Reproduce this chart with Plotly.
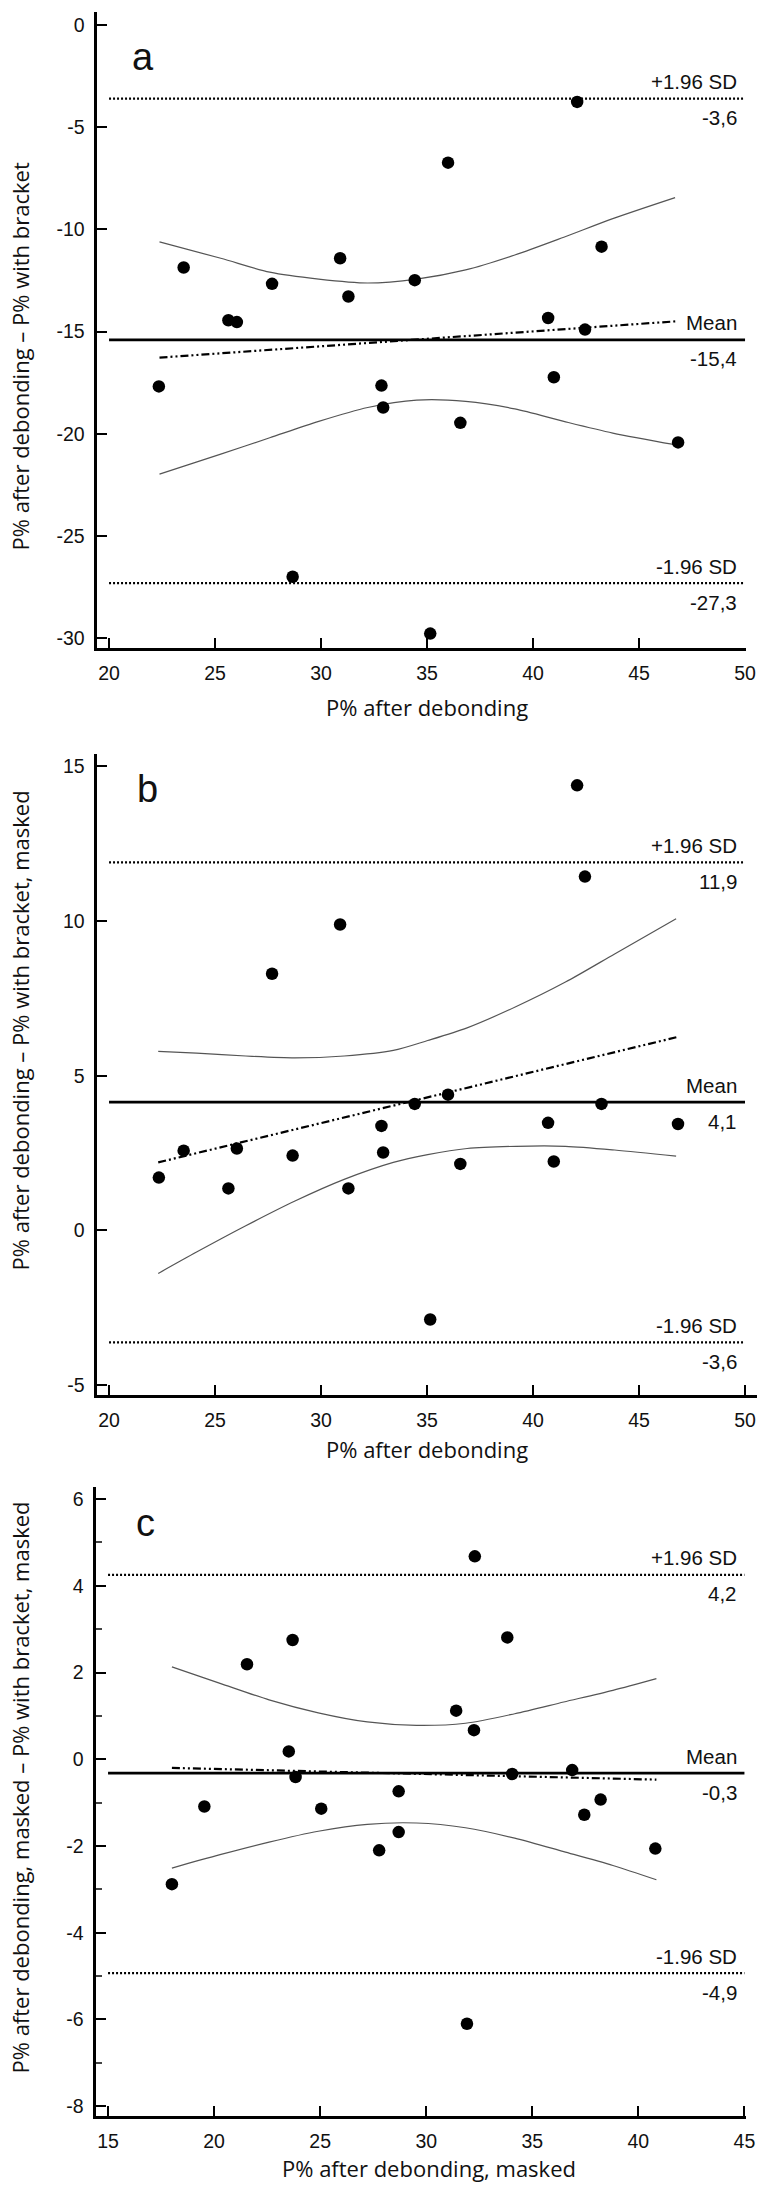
import plotly.graph_objects as go

# ---------------- data ----------------
# Panels a and b share the x variable (P% after debonding)
p_after = [22.35, 23.52, 25.63, 26.03, 27.69, 28.66, 30.90, 31.29, 32.85, 32.93,
           34.42, 35.15, 35.99, 36.57, 40.71, 40.98, 42.08, 42.45, 43.23, 46.84]
diff_a = [-17.68, -11.86, -14.44, -14.53, -12.66, -26.99, -11.41, -13.28, -17.64, -18.71,
          -12.48, -29.77, -6.73, -19.46, -14.33, -17.23, -3.76, -14.90, -10.84, -20.42]
diff_b = [1.71, 2.58, 1.36, 2.65, 8.30, 2.42, 9.89, 1.36, 3.38, 2.52,
          4.09, -2.88, 4.39, 2.15, 3.48, 2.23, 14.39, 11.44, 4.09, 3.44]

# Panel c
p_after_masked = [18.01, 19.54, 21.55, 23.52, 23.70, 23.84, 25.05, 27.78, 28.70, 28.70,
                  31.41, 31.92, 32.25, 32.29, 33.82, 34.05, 36.88, 37.45, 38.22, 40.80]
diff_c = [-2.88, -1.09, 2.19, 0.18, 2.75, -0.41, -1.14, -2.10, -0.74, -1.68,
          1.12, -6.10, 0.67, 4.68, 2.81, -0.34, -0.25, -1.28, -0.93, -2.06]

# Limits of agreement (upper, mean, lower) and their labels
loa_a = [-3.6, -15.4, -27.3]
loa_b = [11.9, 4.15, -3.62]
loa_c = [4.25, -0.32, -4.93]
loa_a_txt = ["-3,6", "-15,4", "-27,3"]
loa_b_txt = ["11,9", "4,1", "-3,6"]
loa_c_txt = ["4,2", "-0,3", "-4,9"]
loa_names = ["+1.96 SD", "Mean", "-1.96 SD"]

# Regression lines (end points)
reg_a_x = [22.38, 46.80]
reg_a_y = [-16.27, -14.49]
reg_b_x = [22.32, 46.85]
reg_b_y = [2.20, 6.26]
reg_c_x = [18.01, 40.85]
reg_c_y = [-0.20, -0.47]

# Confidence curves of regression
ci_a_x = [22.38, 25.27, 27.58, 29.89, 32.20, 34.51, 36.82, 39.14, 41.45, 43.76, 46.70]
ci_a_up = [-10.61, -11.41, -12.09, -12.43, -12.62, -12.43, -11.98, -11.25, -10.38, -9.47, -8.44]
ci_a_lo = [-21.97, -20.99, -20.19, -19.39, -18.71, -18.35, -18.41, -18.78, -19.39, -19.96, -20.53]

ci_b_x = [22.32, 24.13, 26.45, 28.77, 31.09, 33.41, 35.03, 36.89, 39.21, 41.53, 43.85, 46.75]
ci_b_up = [5.79, 5.73, 5.64, 5.58, 5.64, 5.82, 6.14, 6.55, 7.24, 8.03, 8.94, 10.08]
ci_b_lo = [-1.39, -0.70, 0.15, 0.95, 1.65, 2.20, 2.45, 2.65, 2.72, 2.72, 2.60, 2.40]

ci_c_x = [18.01, 20.28, 22.59, 24.91, 27.22, 29.54, 31.85, 34.17, 36.48, 38.80, 40.85]
ci_c_up = [2.13, 1.75, 1.37, 1.07, 0.86, 0.78, 0.83, 1.05, 1.32, 1.59, 1.86]
ci_c_lo = [-2.51, -2.20, -1.91, -1.66, -1.50, -1.47, -1.58, -1.82, -2.13, -2.45, -2.78]

# Tick values / labels
xt_ab = [20, 25, 30, 35, 40, 45, 50]
xt_c = [15, 20, 25, 30, 35, 40, 45]
yt_a = [0, -5, -10, -15, -20, -25, -30]
yt_b = [15, 10, 5, 0, -5]
yt_c = [6, 4, 2, 0, -2, -4, -6, -8]
yt_c_minor = [5, 3, 1, -1, -3, -5, -7]

panel_letters = ["a", "b", "c"]
x_titles = ["P% after debonding", "P% after debonding", "P% after debonding, masked"]
y_titles = ["P% after debonding \u2013 P% with bracket",
            "P% after debonding \u2013 P% with bracket, masked",
            "P% after debonding, masked \u2013 P% with bracket, masked"]

# ---------------- figure ----------------
W, H = 766, 2185
TICKFONT = dict(family="Liberation Sans, Arial, sans-serif", size=19.5, color="#111")
LABELFONT = dict(family="Liberation Sans, Arial, sans-serif", size=20.5, color="#111")
TITLEFONT = dict(family="Open Sans, sans-serif", size=22, color="#111")
REG_DASH = "8px,3px,2px,3px,2px,3px"

fig = go.Figure()


def add_panel(idx, x, y, loa, loa_txt, regx, regy, cix, ciu, cil, xr, x0, x1):
    xa = "x" if idx == 1 else f"x{idx}"
    ya = "y" if idx == 1 else f"y{idx}"
    # CI curves
    for cy in (ciu, cil):
        fig.add_trace(go.Scatter(x=cix, y=cy, mode="lines", xaxis=xa, yaxis=ya,
                                 line=dict(color="#555", width=1.2, shape="spline", smoothing=0.8),
                                 showlegend=False, hoverinfo="skip"))
    # limits of agreement
    for k, v in enumerate(loa):
        fig.add_trace(go.Scatter(x=[x0, x1], y=[v, v], mode="lines", xaxis=xa, yaxis=ya,
                                 line=dict(color="black", width=2.6 if k == 1 else 2.2,
                                           dash="solid" if k == 1 else "2px,2px"),
                                 showlegend=False, hoverinfo="skip"))
    # regression line
    fig.add_trace(go.Scatter(x=regx, y=regy, mode="lines", xaxis=xa, yaxis=ya,
                             line=dict(color="black", width=2.2, dash=REG_DASH),
                             showlegend=False, hoverinfo="skip"))
    # points
    fig.add_trace(go.Scatter(x=x, y=y, mode="markers", xaxis=xa, yaxis=ya,
                             marker=dict(color="black", size=12.5),
                             showlegend=False))
    # labels on lines
    for k, v in enumerate(loa):
        fig.add_annotation(x=xr, y=v, xref=xa, yref=ya, text=loa_names[k], showarrow=False,
                           xanchor="right", yanchor="middle", yshift=17, font=LABELFONT)
        fig.add_annotation(x=xr, y=v, xref=xa, yref=ya, text=loa_txt[k], showarrow=False,
                           xanchor="right", yanchor="middle", yshift=-19, font=LABELFONT)


add_panel(1, p_after, diff_a, loa_a, loa_a_txt, reg_a_x, reg_a_y, ci_a_x, ci_a_up, ci_a_lo,
          49.72, 20, 50)
add_panel(2, p_after, diff_b, loa_b, loa_b_txt, reg_b_x, reg_b_y, ci_b_x, ci_b_up, ci_b_lo,
          49.72, 20, 50)
add_panel(3, p_after_masked, diff_c, loa_c, loa_c_txt, reg_c_x, reg_c_y, ci_c_x, ci_c_up, ci_c_lo,
          44.72, 15, 45)


def px_x(p):
    return p / W


def px_y(p):
    return 1 - p / H


axis_common = dict(showline=True, linewidth=2.6, linecolor="black", ticks="inside",
                   ticklen=10, tickwidth=2, tickcolor="black", showgrid=False,
                   zeroline=False, tickfont=TICKFONT, automargin=False, fixedrange=True,
                   ticklabelstandoff=6)

fig.update_layout(
    width=W, height=H, margin=dict(l=0, r=0, t=0, b=0),
    paper_bgcolor="white", plot_bgcolor="white", showlegend=False,
    xaxis=dict(domain=[px_x(97.3), px_x(745.5)], range=[19.446, 50.02], anchor="y",
               tickvals=xt_ab, ticktext=[str(v) for v in xt_ab], **axis_common),
    yaxis=dict(domain=[px_y(648.0), px_y(12)], range=[-30.477, 0.64], anchor="x",
               tickvals=yt_a, ticktext=[str(v) for v in yt_a], **axis_common),
    xaxis2=dict(domain=[px_x(97.3), px_x(757)], range=[19.446, 50.566], anchor="y2",
                tickvals=xt_ab, ticktext=[str(v) for v in xt_ab], **axis_common),
    yaxis2=dict(domain=[px_y(1394.65), px_y(753.5)], range=[-5.309, 15.42], anchor="x2",
                tickvals=yt_b, ticktext=[str(v) for v in yt_b], **axis_common),
    xaxis3=dict(domain=[px_x(96.3), px_x(745.5)], range=[14.446, 45.05], anchor="y3",
                tickvals=xt_c, ticktext=[str(v) for v in xt_c], **axis_common),
    yaxis3=dict(domain=[px_y(2116.0), px_y(1486.5)], range=[-8.227, 6.29], anchor="x3",
                tickvals=yt_c, ticktext=[str(v) for v in yt_c],
                minor=dict(tickvals=yt_c_minor, ticks="inside", ticklen=6, tickwidth=1.5,
                           tickcolor="#444"),
                **axis_common),
)

# panel letters
letter_pos = [(129.5, 57), (134.5, 788.5), (133.5, 1522.5)]
for t, (lx, ly) in zip(panel_letters, letter_pos):
    fig.add_annotation(x=px_x(lx), y=px_y(ly), xref="paper", yref="paper", text=t,
                       showarrow=False, xanchor="left", yanchor="middle",
                       font=dict(family="Liberation Sans, Arial, sans-serif", size=38, color="#111"))

# axis titles
xt_pos = [(427, 707), (427, 1449), (429, 2168)]
for t, (tx, ty) in zip(x_titles, xt_pos):
    fig.add_annotation(x=px_x(tx), y=px_y(ty), xref="paper", yref="paper", text=t,
                       showarrow=False, xanchor="center", yanchor="middle", font=TITLEFONT)
yt_pos = [(19.5, 357), (19.5, 1031), (19.5, 1788)]
for t, (tx, ty) in zip(y_titles, yt_pos):
    fig.add_annotation(x=px_x(tx), y=px_y(ty), xref="paper", yref="paper", text=t,
                       showarrow=False, xanchor="center", yanchor="middle", textangle=-90,
                       font=TITLEFONT)

fig.write_html("out.html")
